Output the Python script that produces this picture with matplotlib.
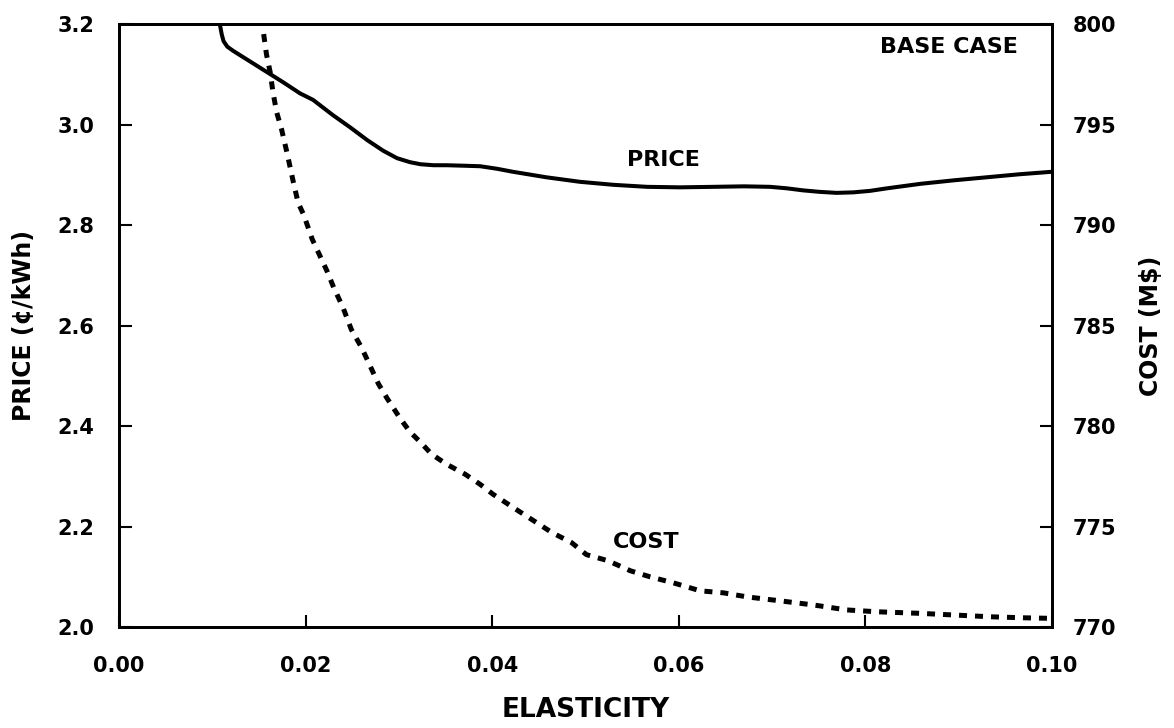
import numpy as np
import matplotlib.pyplot as plt

plt.rcParams['font.family'] = ['DejaVu Sans']

# price curve (left axis)
price_x = [0.0108, 0.0110, 0.0112, 0.0116, 0.0122, 0.0140, 0.0158, 0.0176, 0.0194, 0.0208,
           0.0229, 0.0248, 0.0266, 0.0283, 0.0298, 0.0312, 0.0323, 0.0337, 0.0351,
           0.0370, 0.0387, 0.0405, 0.0422, 0.0458, 0.0494, 0.0530, 0.0566, 0.0601,
           0.0637, 0.0670, 0.0698, 0.0716, 0.0733, 0.0751, 0.0769, 0.0787, 0.0805,
           0.0823, 0.0859, 0.0895, 0.0930, 0.0965, 0.1000]
price_y = [3.200, 3.180, 3.166, 3.155, 3.147, 3.126, 3.105, 3.084, 3.062, 3.049,
           3.019, 2.994, 2.969, 2.948, 2.933, 2.925, 2.921, 2.919, 2.919,
           2.918, 2.917, 2.912, 2.906, 2.895, 2.886, 2.880, 2.876, 2.875,
           2.876, 2.877, 2.876, 2.873, 2.869, 2.866, 2.864, 2.865, 2.868,
           2.873, 2.882, 2.889, 2.895, 2.901, 2.906]

# cost curve (right axis)
cost_x = [0.0155, 0.0158, 0.0162, 0.0165, 0.0169, 0.0174, 0.0180, 0.0187, 0.0192,
          0.0198, 0.0207, 0.0214, 0.0223, 0.0230, 0.0240, 0.0249, 0.0260, 0.0269,
          0.0278, 0.0287, 0.0301, 0.0312, 0.0323, 0.0335, 0.0351, 0.0371, 0.0387,
          0.0401, 0.0424, 0.0444, 0.0464, 0.0485, 0.0501, 0.0524, 0.0548, 0.0569,
          0.0594, 0.0623, 0.0648, 0.0673, 0.0709, 0.0744, 0.0780, 0.0812, 0.0859,
          0.0894, 0.0934, 0.0969, 0.1000]
cost_y = [799.5, 798.5, 797.6, 796.6, 795.6, 794.8, 793.6, 792.1, 791.1,
          790.5, 789.3, 788.6, 787.7, 786.9, 785.9, 784.8, 783.9, 783.0,
          782.1, 781.4, 780.4, 779.7, 779.2, 778.6, 778.1, 777.6, 777.1,
          776.6, 775.9, 775.3, 774.7, 774.2, 773.6, 773.3, 772.8, 772.5,
          772.2, 771.8, 771.7, 771.5, 771.3, 771.1, 770.85, 770.76, 770.68,
          770.6, 770.51, 770.46, 770.43]

fig = plt.figure(figsize=(11.74, 7.28), dpi=100)
ax = fig.add_axes([0.1014, 0.1387, 0.7947, 0.8283])
ax2 = ax.twinx()

ax.plot(price_x, price_y, color='black', lw=2.9, solid_capstyle='butt')
ax2.plot(cost_x, cost_y, color='black', lw=3.6, dashes=(1.6, 1.6))

ax.set_xlim(0, 0.10)
ax.set_ylim(2.0, 3.2)
ax2.set_ylim(770, 800)

ax.set_xticks(np.arange(0, 0.101, 0.02))
ax.set_xticklabels(['0.00', '0.02', '0.04', '0.06', '0.08', '0.10'])
ax.set_yticks(np.arange(2.0, 3.21, 0.2))
ax.set_yticklabels(['2.0', '2.2', '2.4', '2.6', '2.8', '3.0', '3.2'])
ax2.set_yticks(np.arange(770, 801, 5))

for a in (ax, ax2):
    a.tick_params(direction='in', length=9, width=1.5, labelsize=15)
    for lab in a.get_xticklabels() + a.get_yticklabels():
        lab.set_fontweight('bold')
    for s in a.spines.values():
        s.set_linewidth(2)
ax.tick_params(axis='x', pad=21)
ax.tick_params(axis='y', pad=18)
ax2.tick_params(axis='y', pad=15)

ax.set_xlabel('ELASTICITY', fontsize=19, fontweight='bold', labelpad=15)
ax.set_ylabel('PRICE (¢/kWh)', fontsize=17, fontweight='bold', labelpad=15)
ax2.set_ylabel('COST (M$)', fontsize=17, fontweight='bold', labelpad=16)

ax.text(0.0963, 3.154, 'BASE CASE', fontsize=16, fontweight='bold', ha='right', va='center')
ax.text(0.0584, 2.929, 'PRICE', fontsize=16, fontweight='bold', ha='center', va='center')
ax.text(0.0565, 2.170, 'COST', fontsize=16, fontweight='bold', ha='center', va='center')

fig.savefig('out.png', dpi=100)
